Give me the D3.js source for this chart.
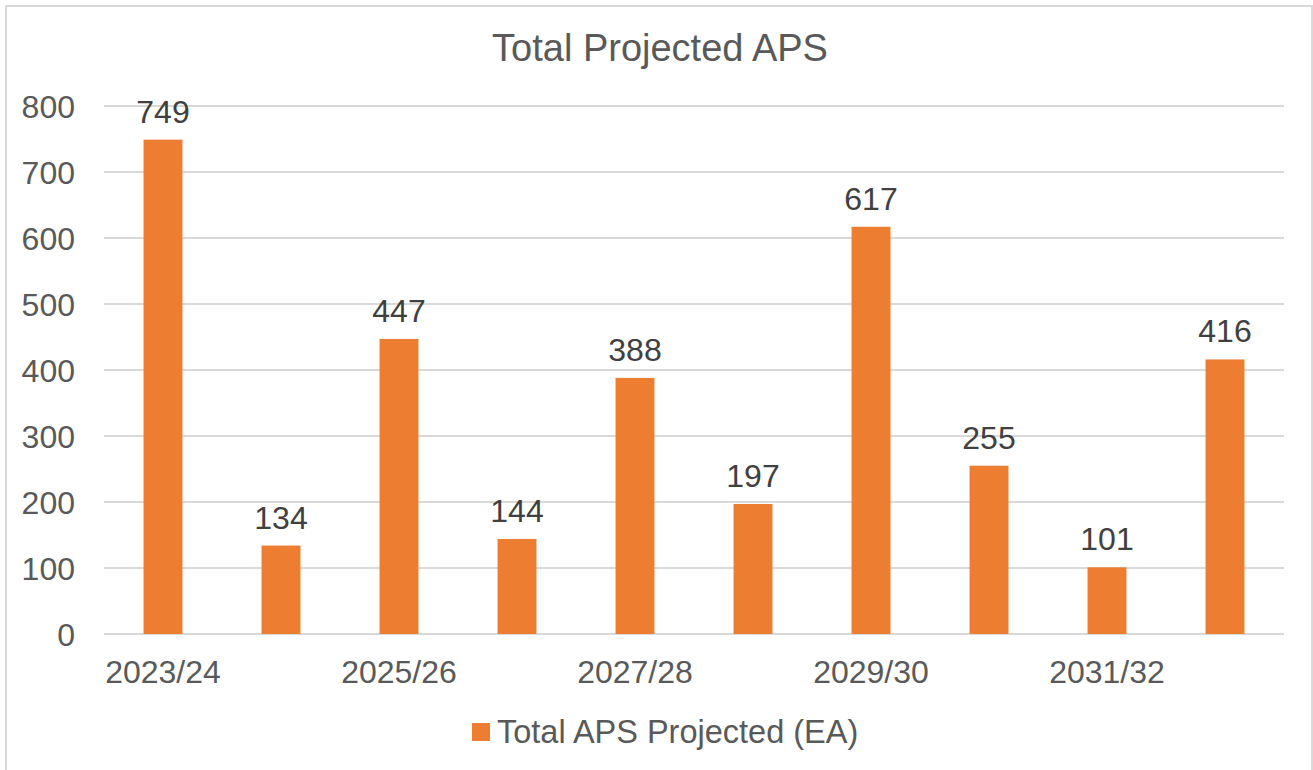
<!DOCTYPE html>
<html>
<head>
<meta charset="utf-8">
<script src="https://cdn.jsdelivr.net/npm/d3@7"></script>
<style>
  html, body { margin: 0; padding: 0; background: #fff; }
  svg { display: block; font-family: "Liberation Sans", Arial, sans-serif; }
</style>
</head>
<body>
<svg id="chart" width="1313" height="770"></svg>
<script>
const categories = ["2023/24","2024/25","2025/26","2026/27","2027/28","2028/29","2029/30","2030/31","2031/32","2032/33"];
const values = [749, 134, 447, 144, 388, 197, 617, 255, 101, 416];
const yTicks = [0, 100, 200, 300, 400, 500, 600, 700, 800];
const xTickLabels = ["2023/24","2025/26","2027/28","2029/30","2031/32"];
const title = "Total Projected APS";
const seriesName = "Total APS Projected (EA)";

const svg = d3.select("#chart");
const W = 1313, H = 770;

// chart border
svg.append("rect")
  .attr("x", 6).attr("y", 6).attr("width", W - 7).attr("height", H)
  .attr("fill", "#fff").attr("stroke", "#d9d9d9").attr("stroke-width", 2);

const plot = { left: 104, right: 1284, top: 106, bottom: 634 };

const x = d3.scaleBand().domain(categories)
  .range([plot.left, plot.right]).paddingInner(0.67).paddingOuter(0.335);
const y = d3.scaleLinear().domain([0, 800]).range([plot.bottom, plot.top]);

// title
svg.append("text")
  .attr("x", 660).attr("y", 61)
  .attr("text-anchor", "middle")
  .attr("font-size", 38).attr("fill", "#595959")
  .text(title);

// gridlines
svg.append("g").selectAll("line").data(yTicks).join("line")
  .attr("x1", plot.left).attr("x2", plot.right)
  .attr("y1", d => y(d)).attr("y2", d => y(d))
  .attr("stroke", "#d9d9d9").attr("stroke-width", 2);

// y axis labels
const yAxis = d3.axisLeft(y).tickValues(yTicks).tickSize(0).tickPadding(0);
const gy = svg.append("g").attr("transform", `translate(75,0)`).call(yAxis);
gy.select(".domain").remove();
gy.selectAll("text")
  .attr("font-size", 32).attr("fill", "#595959")
  .attr("font-family", "Liberation Sans, Arial, sans-serif")
  .attr("dy", "0.35em");

// x axis labels
const xAxis = d3.axisBottom(x)
  .tickValues(xTickLabels).tickSize(0).tickPadding(0);
const gx = svg.append("g").attr("transform", `translate(0,${plot.bottom})`).call(xAxis);
gx.select(".domain").remove();
gx.selectAll("text")
  .attr("font-size", 32).attr("fill", "#595959")
  .attr("font-family", "Liberation Sans, Arial, sans-serif")
  .attr("dy", null).attr("y", 49);

// bars
svg.append("g").selectAll("rect").data(values).join("rect")
  .attr("x", (d, i) => x(categories[i]))
  .attr("width", x.bandwidth())
  .attr("y", d => y(d))
  .attr("height", d => y(0) - y(d))
  .attr("fill", "#ED7D31");

// data labels
svg.append("g").selectAll("text").data(values).join("text")
  .attr("x", (d, i) => x(categories[i]) + x.bandwidth() / 2)
  .attr("y", d => y(d) - 17)
  .attr("text-anchor", "middle")
  .attr("font-size", 32).attr("fill", "#404040")
  .text(d => d);

// legend
const lg = svg.append("g");
lg.append("rect").attr("x", 472).attr("y", 723).attr("width", 18).attr("height", 18).attr("fill", "#ED7D31");
lg.append("text").attr("x", 497).attr("y", 743)
  .attr("font-size", 32.5).attr("fill", "#595959").text(seriesName);
</script>
</body>
</html>
